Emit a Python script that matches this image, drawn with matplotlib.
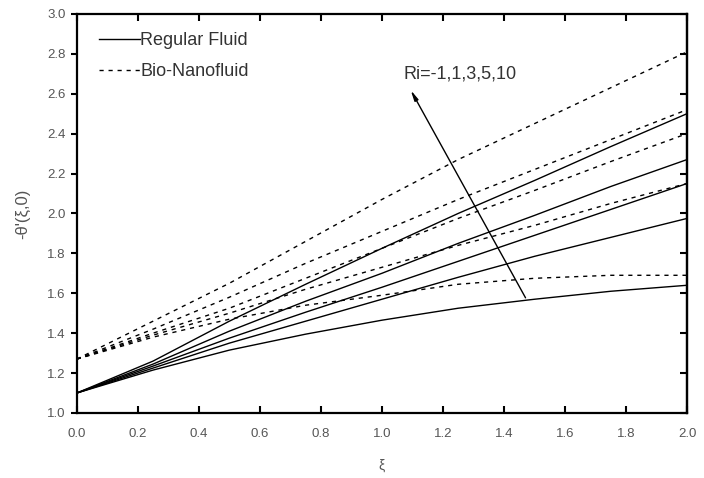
import numpy as np
import matplotlib
matplotlib.use("Agg")
import matplotlib.pyplot as plt

plt.rcParams["font.family"] = ["Liberation Sans Narrow", "Liberation Sans", "DejaVu Sans"]

xi = [0.0, 0.25, 0.5, 0.75, 1.0, 1.25, 1.5, 1.75, 2.0]

# Regular fluid, Ri = -1, 1, 3, 5, 10 (bottom to top)
regular = [
    [1.10, 1.215, 1.315, 1.395, 1.465, 1.525, 1.57, 1.61, 1.64],
    [1.10, 1.225, 1.35, 1.46, 1.57, 1.68, 1.785, 1.88, 1.975],
    [1.10, 1.235, 1.375, 1.505, 1.63, 1.76, 1.89, 2.02, 2.15],
    [1.10, 1.245, 1.41, 1.56, 1.70, 1.85, 1.99, 2.135, 2.27],
    [1.10, 1.26, 1.46, 1.645, 1.825, 2.0, 2.165, 2.335, 2.50],
]

# Bio-nanofluid, Ri = -1, 1, 3, 5, 10 (bottom to top)
bio_nano = [
    [1.27, 1.38, 1.47, 1.54, 1.59, 1.645, 1.675, 1.69, 1.69],
    [1.27, 1.39, 1.50, 1.62, 1.73, 1.84, 1.94, 2.05, 2.15],
    [1.27, 1.40, 1.525, 1.675, 1.825, 1.975, 2.115, 2.26, 2.40],
    [1.27, 1.42, 1.58, 1.75, 1.91, 2.07, 2.22, 2.37, 2.52],
    [1.27, 1.46, 1.65, 1.86, 2.07, 2.27, 2.45, 2.63, 2.81],
]

x_ticks = np.arange(0.0, 2.01, 0.2)
y_ticks = np.arange(1.0, 3.01, 0.2)

fig = plt.figure(figsize=(7.04, 4.78), dpi=100)
ax = fig.add_axes([0.109, 0.136, 0.867, 0.835])

for i, ys in enumerate(regular):
    ax.plot(xi, ys, color="black", lw=1.0,
            label="Regular Fluid" if i == 0 else None)
for i, ys in enumerate(bio_nano):
    ax.plot(xi, ys, color="black", lw=1.0, linestyle=(0, (3, 3.5)),
            label="Bio-Nanofluid" if i == 0 else None)

ax.annotate("", xy=(1.09, 2.63), xytext=(1.475, 1.565),
            arrowprops=dict(arrowstyle="-|>,head_length=0.6,head_width=0.12",
                            lw=1.0, color="black"))
ax.text(1.07, 2.70, "Ri=-1,1,3,5,10", fontsize=13, color="#333333",
        va="center", ha="left")

ax.set_xlim(0.0, 2.0)
ax.set_ylim(1.0, 3.0)
ax.set_xticks(x_ticks)
ax.set_yticks(y_ticks)
ax.set_xticklabels([f"{v:.1f}" for v in x_ticks])
ax.set_yticklabels([f"{v:.1f}" for v in y_ticks])

for sp in ax.spines.values():
    sp.set_linewidth(1.6)

ax.tick_params(axis="x", direction="in", top=True, length=5, width=1.5,
               labelsize=9.5, labelcolor="#555555", pad=11)
ax.tick_params(axis="y", direction="out", right=False, length=4, width=1.5,
               labelsize=9.5, labelcolor="#555555", pad=4)

right = ax.secondary_yaxis("right")
right.set_yticks(y_ticks)
right.tick_params(direction="in", length=5, width=1.5, labelright=False)
right.spines["right"].set_linewidth(1.6)

ax.set_xlabel("\u03be", fontsize=10, color="#555555", labelpad=13)
ax.set_ylabel("-\u03b8'(\u03be,0)", fontsize=12, color="#555555", labelpad=12)

ax.legend(loc="upper left", bbox_to_anchor=(0.015, 0.985), frameon=False,
          fontsize=13, handlelength=2.3, handletextpad=0.0,
          labelspacing=0.75, borderpad=0.2, labelcolor="#333333")

fig.savefig("out.png", dpi=100)
